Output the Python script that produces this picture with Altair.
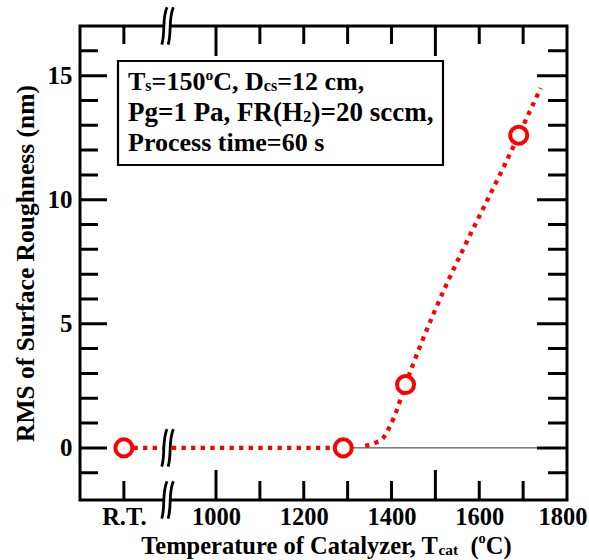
import altair as alt
import pandas as pd

# ---------------- data ----------------
RT_POS = 790                      # axis position used for "R.T."
POINT_T = [RT_POS, 1290, 1432, 1690]
POINT_RMS = [0.0, 0.0, 2.55, 12.6]

FIT_T = [1340, 1362, 1380, 1393, 1405, 1432, 1690, 1740]
FIT_RMS = [0.08, 0.2, 0.38, 0.75, 1.2, 2.55, 12.6, 14.5]

X_LABEL_VALUES = [RT_POS, 1000, 1200, 1400, 1600, 1800]
X_MAJOR = [1000, 1500]
X_MINOR = [RT_POS, 1100, 1200, 1300, 1400, 1600, 1700]
Y_LABEL_VALUES = [0, 5, 10, 15]
Y_MAJOR = [0, 5, 10, 15]
Y_MINOR = [-1, 1, 2, 3, 4, 6, 7, 8, 9, 11, 12, 13, 14, 16]
X_DOMAIN = [690, 1800]
Y_DOMAIN = [-2.1, 17]
BREAK_T = 890

FONT = "Liberation Serif"
RED = "#ff0000"

W, H = 487, 474

# Times-Bold advance widths (per 1000 em) for text layout
CW = {' ': 250, ',': 250, '=': 570, '(': 333, ')': 333, '.': 250,
      'C': 722, 'D': 722, 'F': 611, 'H': 778, 'P': 611, 'R': 722, 'T': 667,
      'a': 500, 'c': 444, 'e': 444, 'f': 333, 'g': 500, 'i': 278, 'l': 278,
      'm': 833, 'o': 500, 'p': 556, 'r': 444, 's': 389, 't': 333, 'u': 556,
      'y': 500, 'z': 444}
for d in "0123456789":
    CW[d] = 500


def tw(s, size):
    return sum(CW.get(ch, 500) for ch in s) * size / 1000.0


one = pd.DataFrame({"k": [0]})


def txt_layer(text, size, x, y, dy=0, align="left"):
    return alt.Chart(one).mark_text(
        text=text, font=FONT, fontWeight="bold", fontSize=size,
        align=align, baseline="alphabetic", dy=dy, color="black"
    ).encode(x=alt.value(x), y=alt.value(y))


def text_run(segments, x0, y0):
    """segments: list of (text, size, dy). Returns list of text layers."""
    layers = []
    x = x0
    for txt, size, dy in segments:
        lead = len(txt) - len(txt.lstrip(' '))
        core = txt.strip(' ')
        xs = x + tw(' ' * lead, size)
        if core:
            layers.append(txt_layer(core, size, xs, y0, dy))
        x += tw(txt, size)
    return layers


def run_width(segments):
    return sum(tw(t, s) for t, s, _ in segments)


# ---------------- shared scales / axes ----------------
x_scale = alt.Scale(domain=X_DOMAIN, nice=False, zero=False)
y_scale = alt.Scale(domain=Y_DOMAIN, nice=False, zero=False)
x_axis = alt.Axis(
    values=X_LABEL_VALUES, format="d",
    labelExpr=f"datum.value == {RT_POS} ? 'R.T.' : datum.label",
    ticks=False, domain=False, grid=False, title=None,
    labelFont=FONT, labelFontWeight="bold", labelFontSize=24.5,
    labelColor="black", labelPadding=5, labelFlush=True,
    labelFlushOffset=20, labelOverlap=False, labelBound=False,
)
y_axis = alt.Axis(
    values=Y_LABEL_VALUES, format="d",
    ticks=False, domain=False, grid=False,
    title="RMS of Surface Roughness (nm)",
    titleFont=FONT, titleFontWeight="bold", titleFontSize=25.5,
    titleColor="black", titlePadding=9,
    labelFont=FONT, labelFontWeight="bold", labelFontSize=25,
    labelColor="black", labelPadding=8, labelFlush=False,
    labelOverlap=False,
)


def X(field):
    return alt.X(field, type="quantitative", scale=x_scale, axis=x_axis)


def Y(field):
    return alt.Y(field, type="quantitative", scale=y_scale, axis=y_axis)


def XD(v):
    return alt.XDatum(v, type="quantitative", scale=x_scale, axis=x_axis)


def YD(v):
    return alt.YDatum(v, type="quantitative", scale=y_scale, axis=y_axis)


# ---------------- main data layers ----------------
pts = pd.DataFrame({"T": POINT_T, "RMS": POINT_RMS})
flat = pts.iloc[:2]
fit = pd.DataFrame({"T": FIT_T, "RMS": FIT_RMS})

zero_rule = alt.Chart(one).mark_rule(color="#333333", strokeWidth=1).encode(
    x=XD(POINT_T[1]), x2=alt.X2Datum(X_DOMAIN[1]), y=YD(0))

dash = dict(color=RED, strokeWidth=4.3, strokeDash=[4.3, 5.3], strokeCap="butt")
flat_line = alt.Chart(flat).mark_line(**dash).encode(x=X("T"), y=Y("RMS"))
fit_line = alt.Chart(fit).mark_line(interpolate="monotone", **dash).encode(
    x=X("T"), y=Y("RMS"))

circles = alt.Chart(pts).mark_point(
    shape="circle", size=290, filled=True, fill="white", stroke=RED,
    strokeWidth=4, opacity=1, fillOpacity=1
).encode(x=X("T"), y=Y("RMS"))


# ---------------- inward ticks ----------------
def xticks(values, y_edge, size):
    return alt.Chart(pd.DataFrame({"T": values})).mark_tick(
        orient="vertical", size=size, thickness=3, color="black", clip=True,
        opacity=1
    ).encode(x=X("T"), y=YD(y_edge))


def yticks(values, x_edge, size):
    return alt.Chart(pd.DataFrame({"RMS": values})).mark_tick(
        orient="horizontal", size=size, thickness=3, color="black", clip=True,
        opacity=1
    ).encode(y=Y("RMS"), x=XD(x_edge))


tick_layers = [
    xticks(X_MAJOR, Y_DOMAIN[0], 60), xticks(X_MINOR, Y_DOMAIN[0], 38),
    xticks(X_MAJOR, Y_DOMAIN[1], 60), xticks(X_MINOR, Y_DOMAIN[1], 36),
    yticks(Y_MAJOR, X_DOMAIN[0], 54), yticks(Y_MINOR, X_DOMAIN[0], 36),
    yticks(Y_MAJOR, X_DOMAIN[1], 60), yticks(Y_MINOR, X_DOMAIN[1], 38),
]

# ---------------- axis-break marks ----------------
brk = pd.DataFrame({"T": [BREAK_T] * 3, "RMS": [Y_DOMAIN[1], 0, Y_DOMAIN[0]]})
S1 = "M-0.32,1 C-0.12,0.35 -0.32,-0.35 -0.04,-1"
S2 = "M0.02,1 C0.22,0.35 0.02,-0.35 0.30,-1"
FILL_PATH = S1 + " L0.30,-1 C0.02,-0.35 0.22,0.35 0.02,1 Z"
STROKE_PATH = S1 + " " + S2
brk_fill = alt.Chart(brk).mark_point(
    shape=FILL_PATH, size=1400, filled=True, fill="white", strokeWidth=0,
    opacity=1, fillOpacity=1
).encode(x=X("T"), y=Y("RMS"))
brk_stroke = alt.Chart(brk).mark_point(
    shape=STROKE_PATH, size=1400, filled=False, stroke="black",
    strokeWidth=2.8, opacity=1
).encode(x=X("T"), y=Y("RMS"))

# ---------------- annotation box ----------------
box = alt.Chart(one).mark_rect(fill="white", stroke="black", strokeWidth=2.2).encode(
    x=alt.value(38), x2=alt.value(363), y=alt.value(35), y2=alt.value(139))

F = 26
SUB = round(F * 0.62, 1)
SUP = round(F * 0.6, 1)
line1 = [("T", F, 0), ("s", SUB, 1), ("=150", F, 0), ("o", SUP, -10),
         ("C, D", F, 0), ("cs", SUB, 1), ("=12 cm,", F, 0)]
line2 = [("Pg=1 Pa, FR(H", 27, 0), ("2", 17, 1), (")=20 sccm,", 27, 0)]
line3 = [("Process time=60 s", F, 0)]
box_text = (text_run(line1, 48, 64) + text_run(line2, 48, 95) +
            text_run(line3, 48, 125))

# ---------------- x-axis title with subscript ----------------
XF = 24.5
XT_MAIN = "Temperature of Catalyzer, T"
xt_tail = [("cat", 15.5, 1), ("  (", XF, 0), ("o", 14.5, -11), ("C)", XF, 0)]
xt_total = tw(XT_MAIN, XF) + run_width(xt_tail)
xt_join = W / 2 - xt_total / 2 + tw(XT_MAIN, XF)
XT_BASE = 528
xt_layers = [txt_layer(XT_MAIN, XF, xt_join, XT_BASE, align="right")] + \
    text_run(xt_tail, xt_join + 0.5, XT_BASE)

chart = alt.layer(
    zero_rule, flat_line, fit_line, circles, *tick_layers,
    brk_fill, brk_stroke, box, *box_text, *xt_layers
).properties(
    width=W, height=H,
    autosize=alt.AutoSizeParams(type="none"),
    padding={"left": 80, "top": 26, "right": 22, "bottom": 60},
).configure_view(stroke="black", strokeWidth=3)

chart.save("out.html", embed_options={"renderer": "svg", "actions": False})
